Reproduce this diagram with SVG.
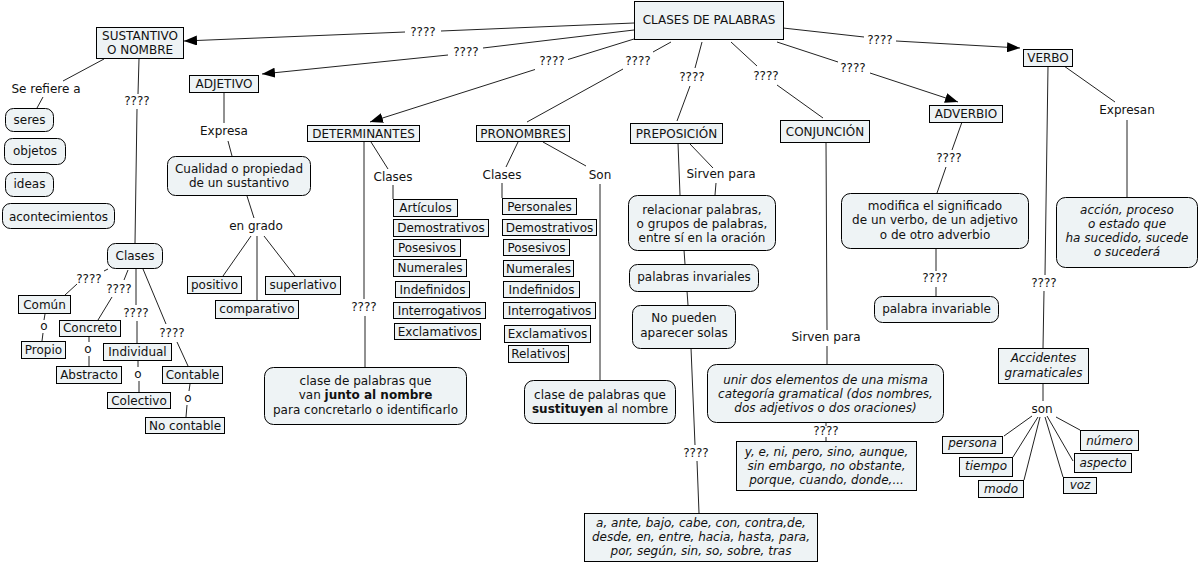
<svg xmlns="http://www.w3.org/2000/svg" width="1199" height="564" viewBox="0 0 1199 564">
<defs>
<style>
.n{fill:#eef3f5;stroke:#000;stroke-width:1}
.t{font-family:"DejaVu Sans",Verdana,sans-serif;font-size:12px;fill:#111;text-anchor:middle}
.i{font-style:italic}
.c path{stroke:#222;fill:none;stroke-width:1}
</style>
<marker id="ah" markerUnits="userSpaceOnUse" markerWidth="13" markerHeight="10" refX="13" refY="5" orient="auto">
<path d="M0,0 L13,5 L0,10 z" fill="#000"/>
</marker>
</defs>
<rect width="1199" height="564" fill="#fff"/>
<g class="c">
<path d="M634,23 L441,31"/><path d="M405,32 L184,41" marker-end="url(#ah)"/>
<path d="M634,30 L483,48"/><path d="M448,55 L262,74" marker-end="url(#ah)"/>
<path d="M634,39 L568,59.5"/><path d="M535,69.5 L370,122" marker-end="url(#ah)"/>
<path d="M671,42 L653,52"/><path d="M623,69 L527,122"/>
<path d="M702,42 L695,68"/><path d="M690,86 L677,121"/>
<path d="M731,42 L757,66"/><path d="M777,85 L823,118"/>
<path d="M777,42 L838,62"/><path d="M870,73 L958,102" marker-end="url(#ah)"/>
<path d="M783,28 L864,37"/><path d="M896,41 L1020,48" marker-end="url(#ah)"/>
<path d="M104,59 L63,81"/><path d="M43,97 L37,108"/>
<path d="M139,59 L138,94"/><path d="M137,109 L135,243"/>
<path d="M108,269 L104,271"/><path d="M77,284 L65,295"/>
<path d="M128,270 L124,280"/><path d="M112,297 L98,320"/>
<path d="M136,269 L136,305"/><path d="M137,321 L137,343"/>
<path d="M143,269 L166,324"/><path d="M177,342 L188,366"/>
<path d="M45,314 L44,320"/><path d="M43,333 L42,341"/>
<path d="M89,337 L89,342"/><path d="M89,356 L89,366"/>
<path d="M138,360 L138,367"/><path d="M139,381 L139,392"/>
<path d="M190,384 L189,391"/><path d="M187,405 L186,417"/>
<path d="M224,92 L224,123"/><path d="M228,141 L232,156"/>
<path d="M247,196 L254,218"/><path d="M251,236 L223,276"/><path d="M257,236 L257,300"/><path d="M264,236 L295,276"/>
<path d="M364,141 L364,299"/><path d="M365,316 L365,367"/>
<path d="M371,142 L388,169"/><path d="M393,185 L393,199"/>
<path d="M518,142 L506,167"/><path d="M502,183 L502,198"/>
<path d="M543,142 L586,166"/><path d="M600,184 L600,380"/>
<path d="M690,144 L713,168"/><path d="M716,183 L715,195"/>
<path d="M678,143 L680,195"/>
<path d="M684,250 L685,264"/>
<path d="M687,291 L688,305"/>
<path d="M691,348 L695,445"/><path d="M697,461 L699,513"/>
<path d="M826,142 L827,330"/><path d="M827,346 L827,364"/>
<path d="M826,422 L826,426"/><path d="M826,437 L826,441"/>
<path d="M962,122 L952,150"/><path d="M946,167 L937,193"/>
<path d="M936,248 L936,271"/><path d="M936,287 L936,296"/>
<path d="M1048,66 L1045,275"/><path d="M1044,291 L1043,348"/>
<path d="M1064,66 L1115,102"/><path d="M1127,120 L1127,197"/>
<path d="M1043,383 L1043,401"/>
<path d="M1032,416 L1004,436"/><path d="M1038,417 L1013,457"/><path d="M1040,417 L1024,480"/><path d="M1045,417 L1063,477"/><path d="M1047,416 L1073,461"/><path d="M1056,417 L1080,430"/>
</g>
<g id="labels" class="t">
<text x="423" y="36">????</text>
<text x="466" y="56">????</text>
<text x="552" y="65">????</text>
<text x="638" y="65">????</text>
<text x="692" y="81">????</text>
<text x="766" y="80">????</text>
<text x="853" y="72">????</text>
<text x="880" y="44">????</text>
<text x="46" y="93">Se refiere a</text>
<text x="137" y="105">????</text>
<text x="89" y="283">????</text>
<text x="119" y="293">????</text>
<text x="136" y="317">????</text>
<text x="172" y="337">????</text>
<text x="44" y="330">o</text>
<text x="88" y="353">o</text>
<text x="138" y="378">o</text>
<text x="188" y="402">o</text>
<text x="224" y="135">Expresa</text>
<text x="256" y="230">en grado</text>
<text x="393" y="181">Clases</text>
<text x="502" y="179">Clases</text>
<text x="600" y="179">Son</text>
<text x="364" y="311">????</text>
<text x="721" y="178">Sirven para</text>
<text x="696" y="457">????</text>
<text x="826" y="341">Sirven para</text>
<text x="826" y="435">????</text>
<text x="949" y="162">????</text>
<text x="935" y="282">????</text>
<text x="1127" y="114">Expresan</text>
<text x="1044" y="287">????</text>
<text x="1042" y="413">son</text>
</g>
<g id="clases-palabras"><rect class="n" x="634.5" y="1.5" width="149" height="38"/><text class="t" x="709" y="24">CLASES DE PALABRAS</text></g>
<g id="sustantivo"><rect class="n" x="96.5" y="27.5" width="87" height="31"/><text class="t" x="140" y="40">SUSTANTIVO</text><text class="t" x="140" y="54">O NOMBRE</text></g>
<g id="adjetivo"><rect class="n" x="189.5" y="75.5" width="69" height="17"/><text class="t" x="224" y="88">ADJETIVO</text></g>
<g id="determinantes"><rect class="n" x="307.5" y="125.5" width="112" height="16"/><text class="t" x="363.5" y="137.5">DETERMINANTES</text></g>
<g id="pronombres"><rect class="n" x="476.5" y="125.5" width="93" height="16"/><text class="t" x="523" y="137.5">PRONOMBRES</text></g>
<g id="preposicion"><rect class="n" x="630.5" y="123.5" width="92" height="20"/><text class="t" x="676.5" y="138">PREPOSICIÓN</text></g>
<g id="conjuncion"><rect class="n" x="780.5" y="120.5" width="89" height="22"/><text class="t" x="825" y="136">CONJUNCIÓN</text></g>
<g id="adverbio"><rect class="n" x="929.5" y="105.5" width="73" height="17"/><text class="t" x="966" y="118">ADVERBIO</text></g>
<g id="verbo"><rect class="n" x="1023.5" y="49.5" width="49" height="17"/><text class="t" x="1048" y="62">VERBO</text></g>
<g id="seres"><rect class="n" x="5.5" y="108.5" width="48" height="23" rx="8"/><text class="t" x="29.5" y="124">seres</text></g>
<g id="objetos"><rect class="n" x="4.5" y="138.5" width="61" height="26" rx="8"/><text class="t" x="35" y="155">objetos</text></g>
<g id="ideas"><rect class="n" x="5.5" y="172.5" width="48" height="24" rx="8"/><text class="t" x="29.5" y="188">ideas</text></g>
<g id="acontecimientos"><rect class="n" x="2.5" y="203.5" width="112" height="25" rx="8"/><text class="t" x="58.5" y="221">acontecimientos</text></g>
<g id="clases-sust"><rect class="n" x="107.5" y="243.5" width="55" height="25" rx="8"/><text class="t" x="135" y="260">Clases</text></g>
<g id="comun"><rect class="n" x="18.5" y="295.5" width="52" height="18"/><text class="t" x="44.5" y="309">Común</text></g>
<g id="propio"><rect class="n" x="21.5" y="341.5" width="44" height="17"/><text class="t" x="43.5" y="354">Propio</text></g>
<g id="concreto"><rect class="n" x="59.5" y="320.5" width="61" height="16"/><text class="t" x="90" y="332">Concreto</text></g>
<g id="abstracto"><rect class="n" x="56.5" y="366.5" width="65" height="17"/><text class="t" x="89" y="379">Abstracto</text></g>
<g id="individual"><rect class="n" x="103.5" y="343.5" width="68" height="17"/><text class="t" x="137.5" y="356">Individual</text></g>
<g id="contable"><rect class="n" x="162.5" y="366.5" width="60" height="17"/><text class="t" x="192.5" y="379">Contable</text></g>
<g id="colectivo"><rect class="n" x="107.5" y="392.5" width="63" height="16"/><text class="t" x="139" y="404.5">Colectivo</text></g>
<g id="no-contable"><rect class="n" x="145.5" y="417.5" width="79" height="16"/><text class="t" x="185" y="429.5">No contable</text></g>
<g id="cualidad"><rect class="n" x="167.5" y="156.5" width="143" height="39" rx="8"/><text class="t" x="239" y="173">Cualidad o propiedad</text><text class="t" x="239" y="187">de un sustantivo</text></g>
<g id="positivo"><rect class="n" x="187.5" y="276.5" width="54" height="17"/><text class="t" x="214.5" y="289">positivo</text></g>
<g id="comparativo"><rect class="n" x="215.5" y="300.5" width="83" height="18"/><text class="t" x="257" y="313">comparativo</text></g>
<g id="superlativo"><rect class="n" x="265.5" y="276.5" width="75" height="18"/><text class="t" x="303" y="289">superlativo</text></g>
<g id="det-articulos"><rect class="n" x="393.5" y="199.5" width="64" height="17"/><text class="t" x="425.5" y="212">Artículos</text></g>
<g id="det-demostrativos"><rect class="n" x="393.5" y="219.5" width="95" height="17"/><text class="t" x="441" y="232">Demostrativos</text></g>
<g id="det-posesivos"><rect class="n" x="393.5" y="239.5" width="67" height="17"/><text class="t" x="427" y="252">Posesivos</text></g>
<g id="det-numerales"><rect class="n" x="393.5" y="259.5" width="73" height="17"/><text class="t" x="430" y="272">Numerales</text></g>
<g id="det-indefinidos"><rect class="n" x="395.5" y="281.5" width="74" height="16"/><text class="t" x="432.5" y="293.5">Indefinidos</text></g>
<g id="det-interrogativos"><rect class="n" x="393.5" y="302.5" width="92" height="16"/><text class="t" x="439.5" y="314.5">Interrogativos</text></g>
<g id="det-exclamativos"><rect class="n" x="394.5" y="323.5" width="86" height="16"/><text class="t" x="437.5" y="335.5">Exclamativos</text></g>
<g id="pro-personales"><rect class="n" x="502.5" y="198.5" width="74" height="16"/><text class="t" x="539.5" y="210.5">Personales</text></g>
<g id="pro-demostrativos"><rect class="n" x="502.5" y="219.5" width="94" height="16"/><text class="t" x="549.5" y="231.5">Demostrativos</text></g>
<g id="pro-posesivos"><rect class="n" x="503.5" y="239.5" width="66" height="16"/><text class="t" x="536.5" y="251.5">Posesivos</text></g>
<g id="pro-numerales"><rect class="n" x="503.5" y="260.5" width="70" height="16"/><text class="t" x="538.5" y="272.5">Numerales</text></g>
<g id="pro-indefinidos"><rect class="n" x="503.5" y="281.5" width="76" height="16"/><text class="t" x="541.5" y="293.5">Indefinidos</text></g>
<g id="pro-interrogativos"><rect class="n" x="503.5" y="302.5" width="92" height="16"/><text class="t" x="549.5" y="314.5">Interrogativos</text></g>
<g id="pro-exclamativos"><rect class="n" x="504.5" y="325.5" width="86" height="17"/><text class="t" x="547.5" y="338">Exclamativos</text></g>
<g id="pro-relativos"><rect class="n" x="508.5" y="345.5" width="60" height="17"/><text class="t" x="538.5" y="358">Relativos</text></g>
<g id="det-def"><rect class="n" x="264.5" y="367.5" width="202" height="57" rx="9"/><text class="t" x="365.5" y="385">clase de palabras que</text><text class="t" x="365.5" y="399">van <tspan font-weight="bold">junto al nombre</tspan></text><text class="t" x="365.5" y="414">para concretarlo o identificarlo</text></g>
<g id="pro-def"><rect class="n" x="524.5" y="380.5" width="151" height="43" rx="9"/><text class="t" x="600" y="399">clase de palabras que</text><text class="t" x="600" y="413"><tspan font-weight="bold">sustituyen</tspan> al nombre</text></g>
<g id="relacionar"><rect class="n" x="628.5" y="195.5" width="147" height="55" rx="9"/><text class="t" x="702" y="214">relacionar palabras,</text><text class="t" x="702" y="228">o grupos de palabras,</text><text class="t" x="702" y="242">entre sí en la oración</text></g>
<g id="invariales"><rect class="n" x="629.5" y="264.5" width="129" height="27" rx="8"/><text class="t" x="694" y="281">palabras invariales</text></g>
<g id="no-pueden"><rect class="n" x="632.5" y="305.5" width="103" height="43" rx="8"/><text class="t" x="684" y="322">No pueden</text><text class="t" x="684" y="337">aparecer solas</text></g>
<g id="prep-lista"><rect class="n" x="584.5" y="513.5" width="233" height="48"/><text class="t i" x="701" y="527">a, ante, bajo, cabe, con, contra,de,</text><text class="t i" x="701" y="541">desde, en, entre, hacia, hasta, para,</text><text class="t i" x="701" y="555">por, según, sin, so, sobre, tras</text></g>
<g id="unir"><rect class="n" x="707.5" y="364.5" width="236" height="58" rx="9"/><text class="t i" x="825.5" y="384">unir dos elementos de una misma</text><text class="t i" x="825.5" y="398">categoría gramatical (dos nombres,</text><text class="t i" x="825.5" y="412">dos adjetivos o dos oraciones)</text></g>
<g id="conj-lista"><rect class="n" x="736.5" y="441.5" width="180" height="49"/><text class="t i" x="826.5" y="456">y, e, ni, pero, sino, aunque,</text><text class="t i" x="826.5" y="470">sin embargo, no obstante,</text><text class="t i" x="826.5" y="484">porque, cuando, donde,...</text></g>
<g id="modifica"><rect class="n" x="841.5" y="193.5" width="187" height="55" rx="9"/><text class="t" x="935" y="210">modifica el significado</text><text class="t" x="935" y="224">de un verbo, de un adjetivo</text><text class="t" x="935" y="239">o de otro adverbio</text></g>
<g id="palabra-invariable"><rect class="n" x="874.5" y="296.5" width="124" height="26" rx="8"/><text class="t" x="936.5" y="313">palabra invariable</text></g>
<g id="accion"><rect class="n" x="1056.5" y="197.5" width="141" height="70" rx="9"/><text class="t i" x="1127" y="214">acción, proceso</text><text class="t i" x="1127" y="228">o estado que</text><text class="t i" x="1127" y="242">ha sucedido, sucede</text><text class="t i" x="1127" y="256">o sucederá</text></g>
<g id="accidentes"><rect class="n" x="998.5" y="348.5" width="90" height="35"/><text class="t i" x="1043.5" y="362">Accidentes</text><text class="t i" x="1043.5" y="377">gramaticales</text></g>
<g id="persona"><rect class="n" x="942.5" y="436.5" width="60" height="17"/><text class="t i" x="972.5" y="447">persona</text></g>
<g id="tiempo"><rect class="n" x="959.5" y="457.5" width="53" height="19"/><text class="t i" x="986" y="470">tiempo</text></g>
<g id="modo"><rect class="n" x="978.5" y="480.5" width="45" height="17"/><text class="t i" x="1001" y="493">modo</text></g>
<g id="numero"><rect class="n" x="1080.5" y="430.5" width="58" height="20"/><text class="t i" x="1109.5" y="445">número</text></g>
<g id="aspecto"><rect class="n" x="1074.5" y="453.5" width="57" height="19"/><text class="t i" x="1103" y="467">aspecto</text></g>
<g id="voz"><rect class="n" x="1063.5" y="477.5" width="33" height="16"/><text class="t i" x="1080" y="489">voz</text></g>
</svg>
